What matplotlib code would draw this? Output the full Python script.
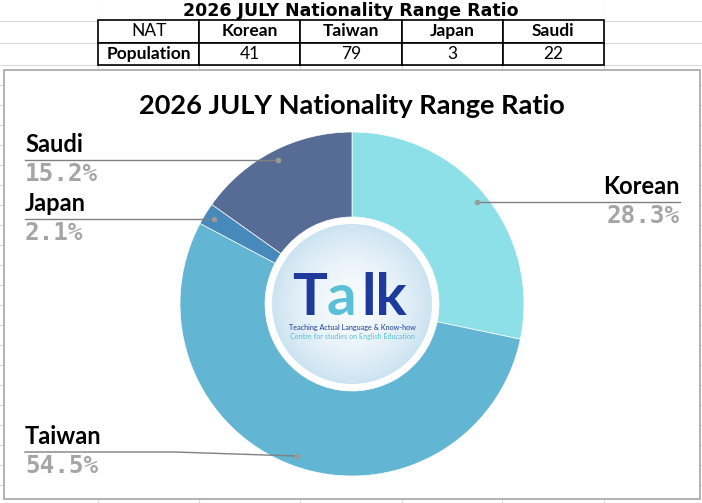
import numpy as np
import matplotlib.pyplot as plt
from matplotlib.patches import Rectangle, Circle

# data
nations = ['Korean', 'Taiwan', 'Japan', 'Saudi']
population = [41, 79, 3, 22]
colors = ['#8DE0E7', '#63B5D4', '#4789BB', '#566C95']
title = '2026 JULY Nationality Range Ratio'

W, H = 702, 503


def py(y):
    # screen pixel (from top) -> data y
    return H - y


fig = plt.figure(figsize=(W / 100, H / 100), dpi=100)
ax = fig.add_axes([0, 0, 1, 1])
ax.set_xlim(0, W)
ax.set_ylim(0, H)
ax.axis('off')

# spreadsheet grid behind everything
grid_c = '#d9d9d9'
for y in [21, 43] + list(range(65, 506, 20)):
    ax.plot([0, W], [py(y), py(y)], color=grid_c, lw=0.8, zorder=0)
for x in [98, 199, 300, 402, 502, 604]:
    ax.plot([x, x], [0, H], color=grid_c, lw=0.8, zorder=0)

# table above the chart
ax.add_patch(Rectangle((98, py(20)), 506, 20, color='white', zorder=1))
ax.text(351, py(11), title, ha='center', va='center', fontsize=12.5,
        fontweight='bold', family='DejaVu Sans', zorder=3)
tbl = ax.table(cellText=[['NAT'] + nations, ['Population'] + [str(v) for v in population]],
               cellLoc='center', bbox=[98 / W, py(65) / H, 506 / W, 45 / H],
               zorder=2)
tbl.auto_set_font_size(False)
for (r, c), cell in tbl.get_celld().items():
    cell.set_edgecolor('black')
    cell.set_linewidth(1.2)
    cell.set_facecolor('white')
    t = cell.get_text()
    t.set_fontsize(12.5)
    t.set_family('Lato')
    if (r == 0 and c > 0) or (r == 1 and c == 0):
        t.set_fontweight('bold')

# chart frame
ax.add_patch(Rectangle((4, py(499)), 696, 429, facecolor='white',
                       edgecolor='#a6a6a6', lw=1.2, zorder=2))
ax.text(352, py(106), title, ha='center', va='center', fontsize=19.5,
        fontweight='bold', family='Lato', zorder=5)

# donut
cx, cy, R, r_in = 352, py(304), 172, 87
wedges, _ = ax.pie(population, colors=colors, startangle=90, counterclock=False,
                   center=(cx, cy), radius=R,
                   wedgeprops=dict(width=R - r_in, edgecolor='white', lw=0.5))
for w in wedges:
    w.set_zorder(4)
ax.set_xlim(0, W)
ax.set_ylim(0, H)
ax.set_aspect('auto')

# logo in the hole
yy, xx = np.mgrid[-1:1:200j, -1:1:200j]
rr = np.clip(np.sqrt(xx ** 2 + yy ** 2), 0, 1)
c0 = np.array([0.97, 0.985, 0.995])
c1 = np.array([0.80, 0.89, 0.945])
img = c0 + (c1 - c0) * rr[..., None] ** 1.8
logo_r = 80
im = ax.imshow(img, extent=[cx - logo_r, cx + logo_r, cy - logo_r, cy + logo_r],
               zorder=5, interpolation='bilinear')
im.set_clip_path(Circle((cx, cy), logo_r, transform=ax.transData))
ax.set_xlim(0, W)
ax.set_ylim(0, H)
dark, light = '#1E3A9A', '#5CBFD8'
ax.text(292, py(315), 'T', fontsize=42, fontweight='bold', family='Lato',
        color=dark, ha='left', va='baseline', zorder=6)
ax.text(327, py(315), 'a', fontsize=42, fontweight='bold', family='Lato',
        color=light, ha='left', va='baseline', zorder=6)
ax.text(361, py(315), 'lk', fontsize=42, fontweight='bold', family='Lato',
        color=dark, ha='left', va='baseline', zorder=6)
ax.text(352, py(327.5), 'Teaching Actual Language & Know-how', fontsize=5.2,
        family='Lato', color=dark, ha='center', va='center', zorder=6)
ax.text(352, py(336), 'Centre for studies on English Education', fontsize=5.2,
        family='Lato', color=light, ha='center', va='center', zorder=6)

# labels with leader lines
pcts = [v / sum(population) * 100 for v in population]
label_pos = {'Korean': (680, None, 'right'), 'Taiwan': (25, 452, 'left'),
             'Japan': (25, None, 'left'), 'Saudi': (25, None, 'left')}
line_c = '#808080'
for w, name, pct in zip(wedges, nations, pcts):
    mid = np.radians((w.theta1 + w.theta2) / 2)
    dx = cx + 0.94 * R * np.cos(mid)
    dy = cy + 0.94 * R * np.sin(mid)
    lx, ly, ha = label_pos[name]
    ly = dy if ly is None else py(ly)
    if name == 'Taiwan':
        xs, ys = [dx, 175, lx], [dy, ly, ly]
    else:
        xs, ys = [dx, lx], [dy, ly]
    ax.plot(xs, ys, color=line_c, lw=1, zorder=7)
    ax.plot(dx, dy, 'o', color='#9a9a9a', ms=3, zorder=7)
    ax.text(lx, ly + 4, name, ha=ha, va='bottom', fontsize=17,
            fontweight='bold', family='Lato', color='black', zorder=7)
    ax.text(lx, ly - 2, f'{pct:.1f}%', ha=ha, va='top', fontsize=17.5,
            fontweight='bold', family='DejaVu Sans Mono', color='#a5a5a5', zorder=7)

fig.savefig('out.png', dpi=100)
